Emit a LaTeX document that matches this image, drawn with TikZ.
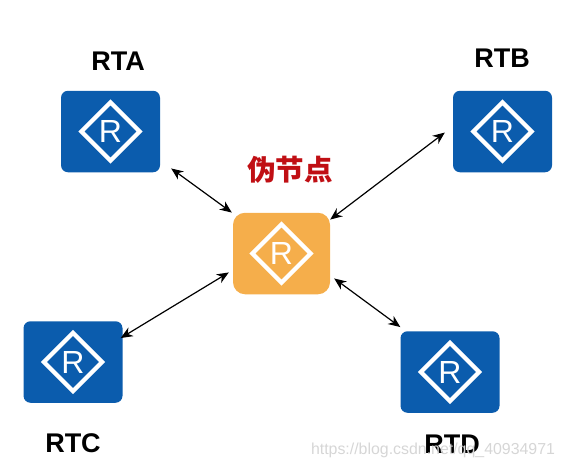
\documentclass[tikz,border=0pt]{standalone}
\usepackage{fontspec}
\setmainfont{Liberation Sans}
\newfontfamily\cjk{Noto Sans CJK SC}
\usetikzlibrary{calc,arrows.meta,shapes.geometric}
\definecolor{routerblue}{HTML}{0B5CAD}
\definecolor{routerorange}{HTML}{F5AE4B}
\definecolor{labelred}{HTML}{C00F14}
\tikzset{
  routerbox/.style={draw=none,fill=#1,rounded corners=7pt,minimum width=99pt,minimum height=81.5pt,inner sep=0pt},
  routerdiamond/.style={diamond,draw=white,line width=4.2pt,fill=none,minimum width=60pt,minimum height=60pt,aspect=1,inner sep=0pt},
  routerletter/.style={text=white,font=\fontsize{32}{32}\selectfont,inner sep=0pt},
  namelabel/.style={font=\fontsize{27}{27}\selectfont\bfseries,text=black,inner sep=0pt},
  link/.style={draw=black,line width=1.2pt,{Stealth[length=12pt,width=10pt]}-{Stealth[length=12pt,width=10pt]}},
  watermark/.style={font=\fontsize{15.9}{16}\selectfont,text=black!16,inner sep=0pt}
}
\begin{document}
\begin{tikzpicture}[x=1pt,y=-1pt]
\useasboundingbox (0,0) rectangle (562,469);
\node[routerbox=routerblue] (rta) at (110.5,131.5) {};
\node[routerbox=routerblue] (rtb) at (502.5,131.5) {};
\node[routerbox=routerblue] (rtc) at (73,362) {};
\node[routerbox=routerblue] (rtd) at (450,372) {};
\node[routerbox=routerorange,minimum width=97pt,rounded corners=12pt] (ps) at (281.5,253.5) {};
\foreach \n in {rta,rtb,rtc,rtd,ps}{
  \node[routerdiamond] (\n d) at (\n) {};
  \node[routerletter] (\n r) at (\n) {R};
}
\node[namelabel] (la) at (118,61) {RTA};
\node[namelabel] (lb) at (502,58) {RTB};
\node[namelabel] (lc) at (73,443) {RTC};
\node[namelabel] (ld) at (452,444) {RTD};
\node[font=\cjk\fontsize{28.5}{28.5}\selectfont\bfseries,text=labelred,inner sep=0pt] (lp) at (290,170) {伪节点};
\draw[link] ($(rta.south east)+(11,-4)$) -- ($(ps.north west)+(-1,0)$);
\draw[link] ($(rtb.north west)+(-8,42)$) -- ($(ps.north east)+(0,7)$);
\draw[link] ($(rtc.north east)+(-2,17)$) -- ($(ps.south west)+(-4,-22)$);
\draw[link] ($(rtd.north west)+(0,-4)$) -- ($(ps.south east)+(4,-16)$);
\node[watermark] (wm) at (433,450) {https://blog.csdn.net/qq\_40934971};
\end{tikzpicture}
\end{document}
